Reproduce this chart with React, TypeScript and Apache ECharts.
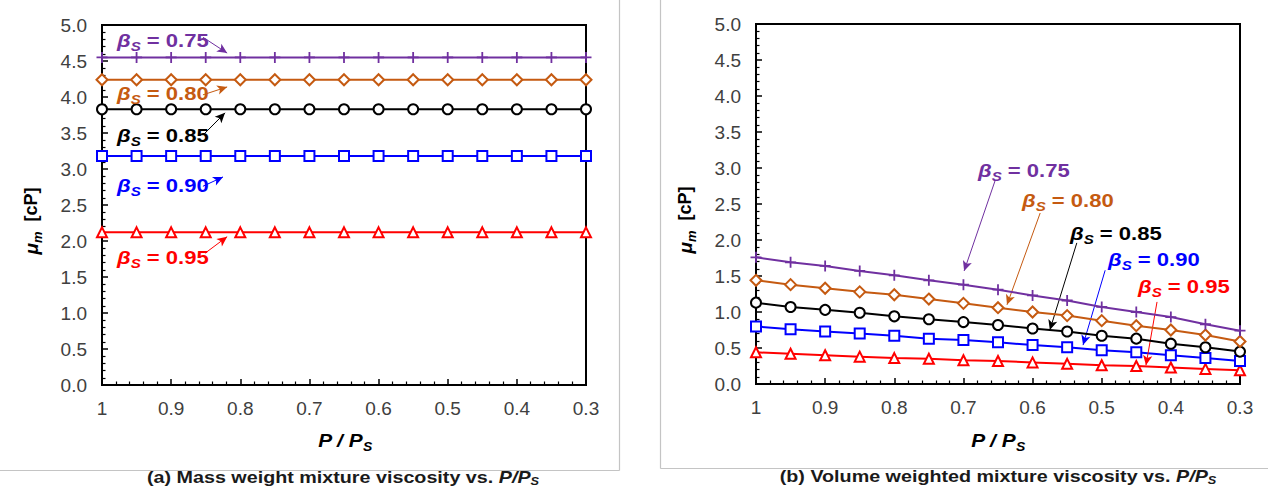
import React, { useEffect, useRef } from "react";
import * as echarts from "echarts";

// ---------- data ----------
const X_VALUES = [1, 0.95, 0.9, 0.85, 0.8, 0.75, 0.7, 0.65, 0.6, 0.55, 0.5, 0.45, 0.4, 0.35, 0.3];
const BETA_LABELS = ["0.75", "0.80", "0.85", "0.90", "0.95"];

// (a) mass weighted mixture viscosity [cP]
const MASS_075 = [4.55, 4.55, 4.55, 4.55, 4.55, 4.55, 4.55, 4.55, 4.55, 4.55, 4.55, 4.55, 4.55, 4.55, 4.55];
const MASS_080 = [4.24, 4.24, 4.24, 4.24, 4.24, 4.24, 4.24, 4.24, 4.24, 4.24, 4.24, 4.24, 4.24, 4.24, 4.24];
const MASS_085 = [3.83, 3.83, 3.83, 3.83, 3.83, 3.83, 3.83, 3.83, 3.83, 3.83, 3.83, 3.83, 3.83, 3.83, 3.83];
const MASS_090 = [3.18, 3.18, 3.18, 3.18, 3.18, 3.18, 3.18, 3.18, 3.18, 3.18, 3.18, 3.18, 3.18, 3.18, 3.18];
const MASS_095 = [2.12, 2.12, 2.12, 2.12, 2.12, 2.12, 2.12, 2.12, 2.12, 2.12, 2.12, 2.12, 2.12, 2.12, 2.12];

// (b) volume weighted mixture viscosity [cP]
const VOL_075 = [1.76, 1.69, 1.64, 1.57, 1.51, 1.44, 1.38, 1.31, 1.23, 1.16, 1.07, 1.0, 0.93, 0.83, 0.74];
const VOL_080 = [1.44, 1.38, 1.33, 1.28, 1.24, 1.18, 1.12, 1.06, 1.0, 0.95, 0.88, 0.81, 0.75, 0.68, 0.59];
const VOL_085 = [1.13, 1.07, 1.03, 0.99, 0.94, 0.9, 0.86, 0.82, 0.77, 0.73, 0.67, 0.63, 0.56, 0.51, 0.45];
const VOL_090 = [0.8, 0.76, 0.73, 0.7, 0.67, 0.63, 0.61, 0.58, 0.54, 0.51, 0.47, 0.44, 0.4, 0.36, 0.32];
const VOL_095 = [0.44, 0.42, 0.4, 0.38, 0.36, 0.35, 0.33, 0.32, 0.3, 0.28, 0.26, 0.25, 0.23, 0.21, 0.19];

const MASS_SERIES = [MASS_075, MASS_080, MASS_085, MASS_090, MASS_095];
const VOL_SERIES = [VOL_075, VOL_080, VOL_085, VOL_090, VOL_095];

// annotation arrows (data coordinates: [P/Ps, mu])
const MASS_ARROWS = [
  [[0.854, 4.83], [0.819, 4.61]],
  [[0.854, 4.03], [0.819, 4.14]],
  [[0.854, 3.47], [0.822, 3.78]],
  [[0.854, 2.76], [0.825, 2.89]],
  [[0.851, 1.83], [0.819, 2.06]],
];
const VOL_ARROWS = [
  [[0.654, 2.83], [0.699, 1.57]],
  [[0.589, 2.375], [0.637, 1.1]],
  [[0.536, 1.96], [0.575, 0.75]],
  [[0.495, 1.58], [0.527, 0.54]],
  [[0.42, 1.14], [0.436, 0.26]],
];

// ---------- styling ----------
const F = "'Liberation Sans', Arial, sans-serif";
const COLORS = ["#7030A0", "#C55A11", "#000000", "#0000FF", "#FF0000"];
const SYMBOLS = [
  "path://M5,0L5,10M0,5L10,5",
  "emptyDiamond",
  "emptyCircle",
  "emptyRect",
  "emptyTriangle",
];
const SYMBOL_SIZES = [11, 11, 10, 10, 10];
const SX = 1.16;

const LEFT_LABEL_POS = [
  [117, 40],
  [117, 93],
  [117, 135],
  [117, 185],
  [117, 257],
];
const RIGHT_LABEL_POS = [
  [978, 170],
  [1022, 200],
  [1070, 233],
  [1108, 259],
  [1138, 286],
];

function makeYAxis(gridIndex: number) {
  return {
    type: "value",
    gridIndex,
    min: 0,
    max: 5,
    interval: 0.5,
    axisLine: { show: true, onZero: false, lineStyle: { color: "#000", width: 2 } },
    axisTick: { show: true, inside: true, length: 6, lineStyle: { color: "#000", width: 1.5 } },
    minorTick: { show: true, splitNumber: 5, length: 3.5, lineStyle: { color: "#000", width: 1.2 } },
    splitLine: { show: false },
    minorSplitLine: { show: false },
    axisLabel: {
      formatter: (v: number) => v.toFixed(1),
      fontSize: 19,
      color: "#404040",
      margin: 15,
      fontFamily: F,
    },
  };
}

function makeXAxis(gridIndex: number) {
  return {
    type: "value",
    gridIndex,
    inverse: true,
    min: 0.3,
    max: 1,
    interval: 0.1,
    axisLine: { show: true, onZero: false, lineStyle: { color: "#000", width: 2 } },
    axisTick: { show: true, inside: true, length: 6, lineStyle: { color: "#000", width: 1.5 } },
    minorTick: { show: true, splitNumber: 5, length: 3.5, lineStyle: { color: "#000", width: 1.2 } },
    splitLine: { show: false },
    minorSplitLine: { show: false },
    axisLabel: {
      formatter: (v: number) => (Math.abs(v - 1) < 1e-6 ? "1" : v.toFixed(1)),
      fontSize: 19,
      color: "#404040",
      margin: 14,
      fontFamily: F,
    },
  };
}

function makeSeries(values: number[][], arrows: number[][][], axisIndex: number) {
  return values.map((vals, i) => ({
    type: "line",
    name: `beta ${BETA_LABELS[i]} (${axisIndex === 0 ? "mass" : "volume"})`,
    xAxisIndex: axisIndex,
    yAxisIndex: axisIndex,
    data: X_VALUES.map((x, j) => [x, vals[j]]),
    symbol: SYMBOLS[i],
    symbolSize: SYMBOL_SIZES[i],
    showSymbol: true,
    lineStyle: { color: COLORS[i], width: 2 },
    itemStyle: { color: COLORS[i], borderColor: COLORS[i], borderWidth: 1.8 },
    z: 3 + (4 - i),
    markLine: {
      silent: true,
      animation: false,
      symbol: ["none", "arrow"],
      symbolSize: [7, 10],
      lineStyle: { color: COLORS[i], width: 1, type: "solid" },
      label: { show: false },
      emphasis: { disabled: true },
      data: [[{ coord: arrows[i][0] }, { coord: arrows[i][1] }]],
    },
  }));
}

function betaText(pos: number[], label: string, color: string) {
  return {
    type: "text",
    x: pos[0],
    y: pos[1],
    scaleX: SX,
    z: 10,
    style: {
      text: `{b|β}{s|S}{t| = ${label}}`,
      align: "left",
      verticalAlign: "middle",
      fill: color,
      rich: {
        b: { fontFamily: F, fontSize: 19, fontWeight: "bold", fontStyle: "italic", lineHeight: 26, fill: color },
        s: { fontFamily: F, fontSize: 13, fontWeight: "bold", fontStyle: "italic", lineHeight: 14, verticalAlign: "bottom", fill: color },
        t: { fontFamily: F, fontSize: 19, fontWeight: "bold", lineHeight: 26, fill: color },
      },
    },
  };
}

function yTitle(x: number, y: number) {
  return {
    type: "text",
    x,
    y,
    rotation: Math.PI / 2,
    z: 10,
    style: {
      text: "{m|μ}{s|m}{t|  [cP]}",
      align: "center",
      verticalAlign: "middle",
      fill: "#000",
      rich: {
        m: { fontFamily: F, fontSize: 19, fontWeight: "bold", fontStyle: "italic", lineHeight: 26, fill: "#000" },
        s: { fontFamily: F, fontSize: 13, fontWeight: "bold", fontStyle: "italic", lineHeight: 14, verticalAlign: "bottom", fill: "#000" },
        t: { fontFamily: F, fontSize: 18, fontWeight: "bold", lineHeight: 26, fill: "#000" },
      },
    },
  };
}

function xTitle(x: number, y: number) {
  return {
    type: "text",
    x,
    y,
    scaleX: SX,
    z: 10,
    style: {
      text: "{p|P / P}{s|S}",
      align: "center",
      verticalAlign: "middle",
      fill: "#000",
      rich: {
        p: { fontFamily: F, fontSize: 18, fontWeight: "bold", fontStyle: "italic", lineHeight: 24, fill: "#000" },
        s: { fontFamily: F, fontSize: 12, fontWeight: "bold", fontStyle: "italic", lineHeight: 12, verticalAlign: "bottom", fill: "#000" },
      },
    },
  };
}

function caption(x: number, y: number, text: string) {
  return {
    type: "text",
    x,
    y,
    scaleX: SX,
    z: 10,
    style: {
      text: `{t|${text}}{i|P/P}{s|S}`,
      align: "center",
      verticalAlign: "middle",
      fill: "#1a1a1a",
      rich: {
        t: { fontFamily: F, fontSize: 17, fontWeight: "bold", lineHeight: 20, fill: "#1a1a1a" },
        i: { fontFamily: F, fontSize: 17, fontWeight: "bold", fontStyle: "italic", lineHeight: 20, fill: "#1a1a1a" },
        s: { fontFamily: F, fontSize: 11, fontStyle: "italic", fontWeight: "bold", lineHeight: 11, verticalAlign: "bottom", fill: "#1a1a1a" },
      },
    },
  };
}

function grayLine(x1: number, y1: number, x2: number, y2: number) {
  return {
    type: "line",
    z: 0,
    shape: { x1, y1, x2, y2 },
    style: { stroke: "#c4c4c4", lineWidth: 1.2 },
  };
}

export default function App() {
  const ref = useRef<HTMLDivElement>(null);

  useEffect(() => {
    document.body.style.margin = "0";
    const chart = echarts.init(ref.current as HTMLDivElement, null, { renderer: "svg" });
    const option = {
      animation: false,
      backgroundColor: "#ffffff",
      grid: [
        { left: 102, top: 25, width: 484, height: 360, show: true, borderColor: "#000", borderWidth: 2, backgroundColor: "transparent" },
        { left: 756, top: 24, width: 484, height: 360, show: true, borderColor: "#000", borderWidth: 2, backgroundColor: "transparent" },
      ],
      xAxis: [makeXAxis(0), makeXAxis(1)],
      yAxis: [makeYAxis(0), makeYAxis(1)],
      series: [...makeSeries(MASS_SERIES, MASS_ARROWS, 0), ...makeSeries(VOL_SERIES, VOL_ARROWS, 1)],
      graphic: [
        grayLine(619.5, 0, 619.5, 470.5),
        grayLine(0, 470.5, 619.5, 470.5),
        grayLine(660.5, 0, 660.5, 468.5),
        grayLine(660.5, 468.5, 1268, 468.5),
        ...LEFT_LABEL_POS.map((p, i) => betaText(p, BETA_LABELS[i], COLORS[i])),
        ...RIGHT_LABEL_POS.map((p, i) => betaText(p, BETA_LABELS[i], COLORS[i])),
        yTitle(31, 221),
        yTitle(685, 220),
        xTitle(345, 441),
        xTitle(998, 441),
        caption(343, 477, "(a) Mass weight mixture viscosity vs. "),
        caption(998, 476, "(b) Volume weighted mixture viscosity vs. "),
      ],
    };
    chart.setOption(option as any);
    return () => chart.dispose();
  }, []);

  return <div ref={ref} style={{ width: 1268, height: 489 }} />;
}
